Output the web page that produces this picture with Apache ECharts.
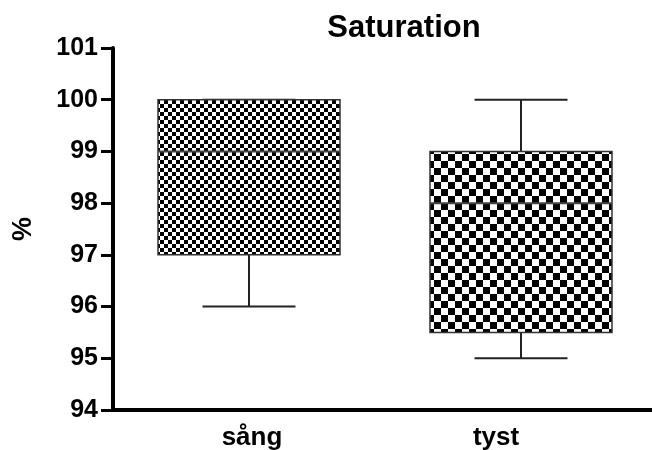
<!DOCTYPE html>
<html><head><meta charset="utf-8">
<script src="https://cdn.jsdelivr.net/npm/echarts@6/dist/echarts.min.js"></script>
<style>html,body{margin:0;padding:0;background:#fff}#c{width:652px;height:450px}</style>
</head><body><div id="c"></div>
<script>
const categories = ['sång', 'tyst'];
const minVals = [96, 95];
const q1Vals = [97, 95.5];
const medianVals = [99, 98];
const q3Vals = [100, 99];
const maxVals = [100, 100];
const yTicks = [94, 95, 96, 97, 98, 99, 100, 101];

function checker(cell) {
  const c = document.createElement('canvas');
  c.width = c.height = cell * 2;
  const ctx = c.getContext('2d');
  ctx.fillStyle = '#fff'; ctx.fillRect(0, 0, cell * 2, cell * 2);
  ctx.fillStyle = '#000';
  ctx.fillRect(0, 0, cell, cell);
  ctx.fillRect(cell, cell, cell, cell);
  return c;
}
const patterns = [checker(4), checker(7)];
const FONT = '"Liberation Sans", Arial, sans-serif';
const labelStyle = {fontFamily: FONT, fontWeight: 'bold', fontSize: 26, color: '#000'};

const data = categories.map((c, i) => [i, minVals[i], q1Vals[i], medianVals[i], q3Vals[i], maxVals[i]]);

const chart = echarts.init(document.getElementById('c'), null, {renderer: 'canvas'});
chart.setOption({
  animation: false,
  title: {text: 'Saturation', left: 399, top: 8, textAlign: 'center',
    textStyle: {fontFamily: FONT, fontWeight: 'bold', fontSize: 31, color: '#000'}},
  grid: {left: 113, top: 48, width: 544, height: 362, outerBoundsMode: 'none', containLabel: false},
  xAxis: {type: 'category', data: categories,
    axisLine: {lineStyle: {color: '#000', width: 4}},
    axisTick: {show: false},
    axisLabel: {margin: 15,
      formatter: function (v, i) { return i === 1 ? '{b|' + v + '}' : '{a|' + v + '}'; },
      rich: {a: Object.assign({padding: [0, 0, 0, 6]}, labelStyle),
             b: Object.assign({padding: [0, 50, 0, 0]}, labelStyle)}}},
  yAxis: {type: 'value', min: yTicks[0], max: yTicks[yTicks.length - 1], interval: 1,
    name: '%', nameLocation: 'middle', nameGap: 76, nameRotate: 90,
    nameTextStyle: {fontFamily: FONT, fontWeight: 'bold', fontSize: 27, color: '#000'},
    splitLine: {show: false},
    axisLine: {show: true, lineStyle: {color: '#000', width: 4}},
    axisTick: {show: true, length: 12, lineStyle: {color: '#000', width: 3}},
    axisLabel: {margin: 15, fontFamily: FONT, fontWeight: 'bold', fontSize: 25, color: '#000'}},
  series: [{
    type: 'custom',
    encode: {x: 0, y: [1, 2, 3, 4, 5]},
    data: data,
    renderItem: function (params, api) {
      const i = api.value(0);
      const pMin = api.coord([i, api.value(1)]);
      const pQ1 = api.coord([i, api.value(2)]);
      const pMed = api.coord([i, api.value(3)]);
      const pQ3 = api.coord([i, api.value(4)]);
      const pMax = api.coord([i, api.value(5)]);
      const cx = pMed[0];
      const hw = 91, cw = 46.5;
      const lineStyle = {stroke: '#222', lineWidth: 2};
      return {type: 'group', children: [
        {type: 'line', shape: {x1: cx, y1: pQ3[1], x2: cx, y2: pMax[1]}, style: lineStyle},
        {type: 'line', shape: {x1: cx - cw, y1: pMax[1], x2: cx + cw, y2: pMax[1]}, style: lineStyle},
        {type: 'line', shape: {x1: cx, y1: pQ1[1], x2: cx, y2: pMin[1]}, style: lineStyle},
        {type: 'line', shape: {x1: cx - cw, y1: pMin[1], x2: cx + cw, y2: pMin[1]}, style: lineStyle},
        {type: 'rect', shape: {x: cx - hw, y: pQ3[1], width: hw * 2, height: pQ1[1] - pQ3[1]},
          style: {fill: {image: patterns[i], repeat: 'repeat'}, stroke: '#333', lineWidth: 1.5}},
        {type: 'line', shape: {x1: cx - hw, y1: pMed[1], x2: cx + hw, y2: pMed[1]}, style: {stroke: '#444', lineWidth: 2}}
      ]};
    }
  }]
});
</script></body></html>
